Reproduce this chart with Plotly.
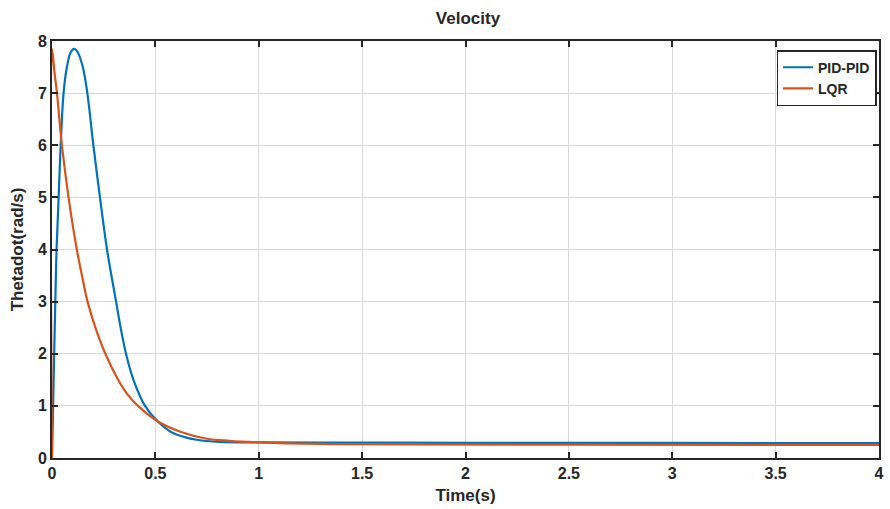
import plotly.graph_objects as go

# Velocity response of the two controllers (time in s, thetadot in rad/s)
t_pid = [0.0, 0.008, 0.016, 0.022, 0.032, 0.042, 0.056, 0.072, 0.09, 0.107,
         0.125, 0.149, 0.171, 0.2, 0.232, 0.266, 0.31, 0.332, 0.358, 0.394,
         0.45, 0.512, 0.576, 0.642, 0.70, 0.81, 1.0, 1.5, 2.0, 3.0, 4.0]
v_pid = [0.0, 1.5, 3.0, 4.0, 5.0, 6.0, 7.0, 7.5, 7.78, 7.85,
         7.78, 7.5, 7.0, 6.0, 5.0, 4.0, 3.0, 2.5, 2.0, 1.5,
         1.0, 0.70, 0.50, 0.40, 0.35, 0.31, 0.30, 0.295, 0.29, 0.29, 0.285]

t_lqr = [0.0, 0.0, 0.012, 0.024, 0.048, 0.08, 0.12, 0.145, 0.172, 0.21, 0.258, 0.32,
         0.365, 0.416, 0.513, 0.617, 0.75, 0.857, 1.0, 1.3, 1.7, 2.5, 4.0]
v_lqr = [0.0, 7.85, 7.4, 7.0, 6.0, 5.0, 4.0, 3.5, 3.0, 2.5, 2.0, 1.5,
         1.22, 1.0, 0.70, 0.51, 0.37, 0.33, 0.30, 0.27, 0.26, 0.255, 0.25]

x_ticks = [0, 0.5, 1, 1.5, 2, 2.5, 3, 3.5, 4]
x_tick_text = ["0", "0.5", "1", "1.5", "2", "2.5", "3", "3.5", "4"]
y_ticks = [0, 1, 2, 3, 4, 5, 6, 7, 8]

FONT = "Liberation Sans, Arial, sans-serif"
INK = "#262626"

fig = go.Figure()
fig.add_trace(go.Scatter(x=t_pid, y=v_pid, mode="lines", name="PID-PID",
                         line=dict(color="#0072BD", width=2.2, shape="spline", smoothing=1.0)))
fig.add_trace(go.Scatter(x=t_lqr, y=v_lqr, mode="lines", name="LQR",
                         line=dict(color="#D95319", width=2.2, shape="spline", smoothing=1.0)))

axis_common = dict(
    showline=True, linecolor=INK, linewidth=1.6, mirror="ticks",
    ticks="inside", ticklen=6, tickwidth=1.6, tickcolor=INK,
    showgrid=True, gridcolor="#d9d9d9", gridwidth=1, zeroline=False,
    tickfont=dict(family=FONT, size=16, color=INK, weight="bold"),
)

fig.update_layout(
    width=890, height=509,
    margin=dict(l=52, r=6, t=41, b=51),
    paper_bgcolor="white", plot_bgcolor="white",
    title=dict(text="Velocity", x=(52 + 884) / 2 / 890, xanchor="center",
               y=1 - 18 / 509, yanchor="middle",
               font=dict(family=FONT, size=17, color=INK, weight="bold")),
    xaxis=dict(range=[0, 4], tickvals=x_ticks, ticktext=x_tick_text,
               title=dict(text="Time(s)", standoff=8,
                          font=dict(family=FONT, size=17, color=INK, weight="bold")),
               **axis_common),
    yaxis=dict(range=[0, 8], tickvals=y_ticks,
               title=dict(text="Thetadot(rad/s)", standoff=10,
                          font=dict(family=FONT, size=17, color=INK, weight="bold")),
               **axis_common),
    legend=dict(x=0.997, y=0.978, xanchor="right", yanchor="top",
                bgcolor="white", bordercolor=INK, borderwidth=1.5,
                font=dict(family=FONT, size=14, color=INK, weight="bold"),
                tracegroupgap=0, itemwidth=30),
    showlegend=True,
)

fig.write_html("out.html")
